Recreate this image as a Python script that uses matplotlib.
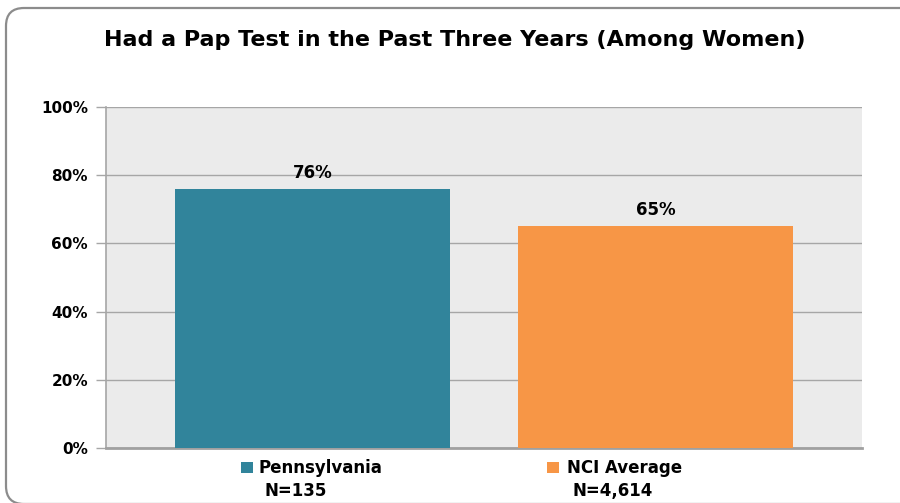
import matplotlib
matplotlib.use("Agg")
import matplotlib.pyplot as plt
from matplotlib.patches import FancyBboxPatch, Rectangle
from matplotlib.transforms import IdentityTransform

categories = ["Pennsylvania", "NCI Average"]
sample_sizes = ["N=135", "N=4,614"]
values = [76, 65]
value_labels = ["76%", "65%"]
colors = ["#31849B", "#F79646"]
yticks = [0, 20, 40, 60, 80, 100]
ytick_labels = ["0%", "20%", "40%", "60%", "80%", "100%"]
title = "Had a Pap Test in the Past Three Years (Among Women)"

W, H = 900, 503
fig = plt.figure(figsize=(W / 100, H / 100), dpi=100)
fig.patch.set_facecolor("white")

# rounded border (pixel coordinates, origin bottom-left)
border = FancyBboxPatch((6, H - 504), W + 30, 504 - 8,
                        boxstyle="round,pad=0,rounding_size=18",
                        transform=IdentityTransform(), fill=False,
                        edgecolor="#8C8C8C", linewidth=1.6)
fig.patches.append(border)

ax = fig.add_axes([106 / W, 1 - 448 / H, (862 - 106) / W, (448 - 107) / H])
ax.set_facecolor("#EBEBEB")

x = list(range(len(categories)))
ax.bar(x, values, width=0.80, color=colors, zorder=3)
ax.set_xlim(-0.602, 1.602)
ax.set_ylim(0, 100)
ax.set_yticks(yticks)
ax.set_yticklabels(ytick_labels, fontsize=11, fontweight="bold")
ax.yaxis.grid(True, color="#A6A6A6", linewidth=1.0, zorder=0)
ax.set_axisbelow(True)
ax.tick_params(axis="y", length=7, color="#A6A6A6", width=1, pad=6)
ax.tick_params(axis="x", length=0)
ax.set_xticks([])
for s in ["top", "right"]:
    ax.spines[s].set_visible(False)
ax.spines["left"].set_color("#A6A6A6")
ax.spines["left"].set_linewidth(1.2)
ax.spines["bottom"].set_color("#A0A0A0")
ax.spines["bottom"].set_linewidth(2)

for xi, v, lab in zip(x, values, value_labels):
    ax.text(xi, v + 3.2, lab, ha="center", va="baseline", fontsize=12, fontweight="bold")

# category labels with legend-like squares (pixel layout)
square_left = [241, 547]
text_left = [258, 567]
n_left = [265, 572]
for i, (cat, n, c) in enumerate(zip(categories, sample_sizes, colors)):
    fig.patches.append(Rectangle((square_left[i] / W, 1 - 473 / H), 12 / W, 11 / H,
                                 transform=fig.transFigure, facecolor=c, edgecolor="none"))
    fig.text(text_left[i] / W, 1 - 473 / H, cat, ha="left", va="baseline",
             fontsize=12, fontweight="bold")
    fig.text(n_left[i] / W, 1 - 496 / H, n, ha="left", va="baseline",
             fontsize=12, fontweight="bold")

fig.text(455 / W, 1 - 46 / H, title, ha="center", va="baseline", fontsize=16, fontweight="bold")

fig.savefig("out.png", dpi=100)
